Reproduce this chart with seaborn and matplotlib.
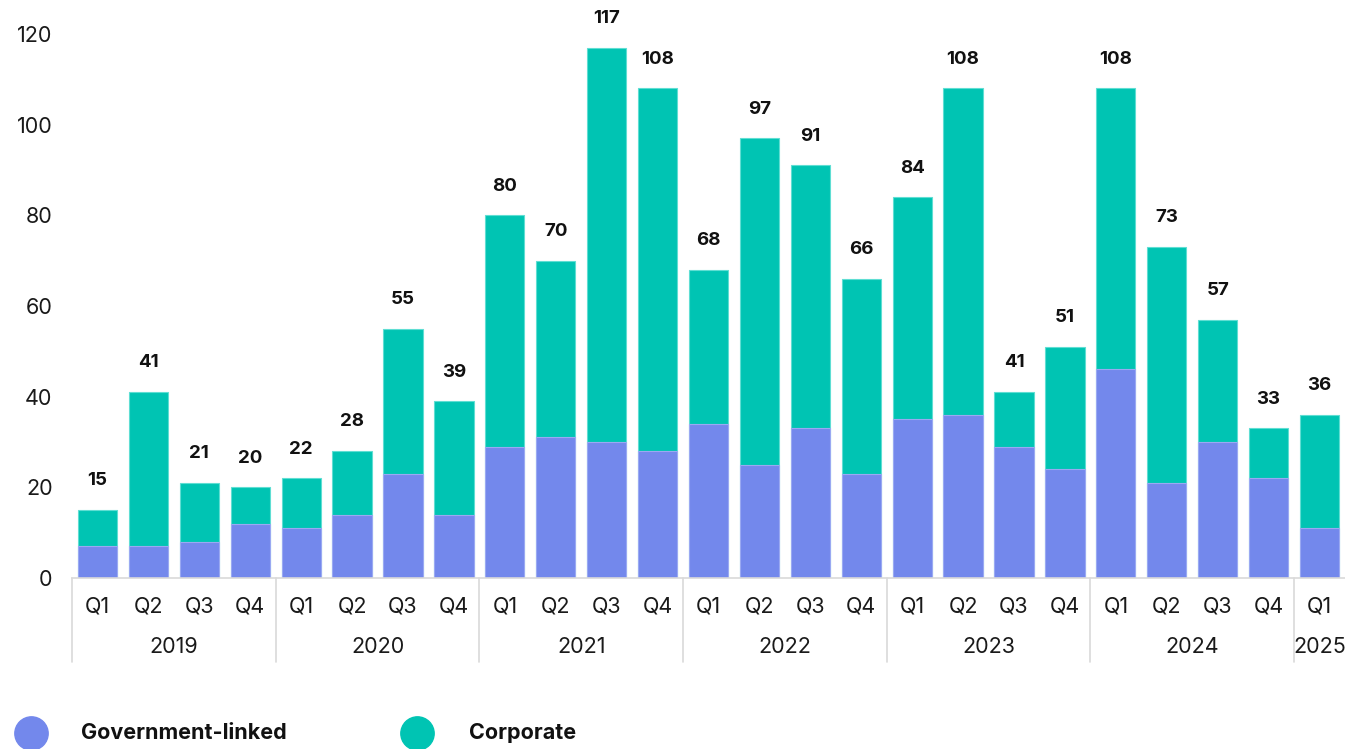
import pandas as pd
import matplotlib.pyplot as plt
import matplotlib.transforms as mtransforms
from matplotlib.lines import Line2D
import seaborn as sns

# ------------------------------
# Data
# ------------------------------
quarters = ["Q1", "Q2", "Q3", "Q4"] * 6 + ["Q1"]
years = ["2019", "2020", "2021", "2022", "2023", "2024", "2025"]
year_len = [4, 4, 4, 4, 4, 4, 1]
gov = [7, 7, 8, 12, 11, 14, 23, 14, 29, 31, 30, 28, 34, 25, 33, 23,
       35, 36, 29, 24, 46, 21, 30, 22, 11]
corporate = [8, 34, 13, 8, 11, 14, 32, 25, 51, 39, 87, 80, 34, 72, 58, 43,
             49, 72, 12, 27, 62, 52, 27, 11, 25]

df = pd.DataFrame({"period": [f"p{i}" for i in range(len(gov))],
                   "gov": gov, "corporate": corporate})
df["total"] = df["gov"] + df["corporate"]

blue = "#7388EC"
teal = "#00C4B3"

sns.set_theme(style="white")
plt.rcParams["font.family"] = ["Inter", "DejaVu Sans"]

fig = plt.figure(figsize=(13.45, 7.49), dpi=100)
ax = fig.add_axes([72 / 1345, 1 - 578 / 749, 1 - 72 / 1345, (578 - 34) / 749])

sns.barplot(data=df, x="period", y="total", color=teal, width=0.77,
            edgecolor="#5fded3", linewidth=0.8, saturation=1, ax=ax)
sns.barplot(data=df, x="period", y="gov", color=blue, width=0.77,
            edgecolor="#9aa9f2", linewidth=0.8, saturation=1, ax=ax)

# totals above bars
for i, t in enumerate(df["total"]):
    ax.annotate(str(t), (i, t), xytext=(0, 21), textcoords="offset points",
                ha="center", va="center", fontsize=13.5, fontweight="bold",
                color="#111111")

ax.set_xlim(-0.5, len(gov) - 0.5)
ax.set_ylim(0, 120)
ax.set_yticks(range(0, 121, 20))
ax.tick_params(axis="y", labelsize=15.5, colors="#1a1a1a", pad=14, length=0)
ax.set_xticks(range(len(quarters)))
ax.set_xticklabels(quarters)
ax.tick_params(axis="x", labelsize=15.5, colors="#1a1a1a", pad=13, length=0)
ax.set_xlabel("")
ax.set_ylabel("")
sns.despine(ax=ax, left=True)
ax.spines["bottom"].set_color("#d9d9d9")
ax.spines["bottom"].set_linewidth(1.2)

# year group labels and separators
trans = mtransforms.blended_transform_factory(ax.transData, fig.transFigure)
start = 0
for y, n in zip(years, year_len):
    x0 = start - 0.5
    ax.add_line(Line2D([x0, x0], [1 - 578 / 749, 1 - 662 / 749], transform=trans,
                       color="#d9d9d9", linewidth=1.2, clip_on=False))
    ax.text(start + (n - 1) / 2, 1 - 647 / 749, y, transform=trans,
            ha="center", va="center", fontsize=15.5, color="#1a1a1a")
    start += n

# legend
leg_y = 1 - 733 / 749
for cx, tx, label, col in [(31, 81, "Government-linked", blue),
                           (417, 469, "Corporate", teal)]:
    fig.add_artist(Line2D([cx / 1345], [leg_y], marker="o", markersize=24,
                          color=col, linestyle="", transform=fig.transFigure))
    fig.text(tx / 1345, leg_y, label, ha="left", va="center",
             fontsize=15.5, fontweight="bold", color="#111111")

plt.savefig("out.png", dpi=100)
